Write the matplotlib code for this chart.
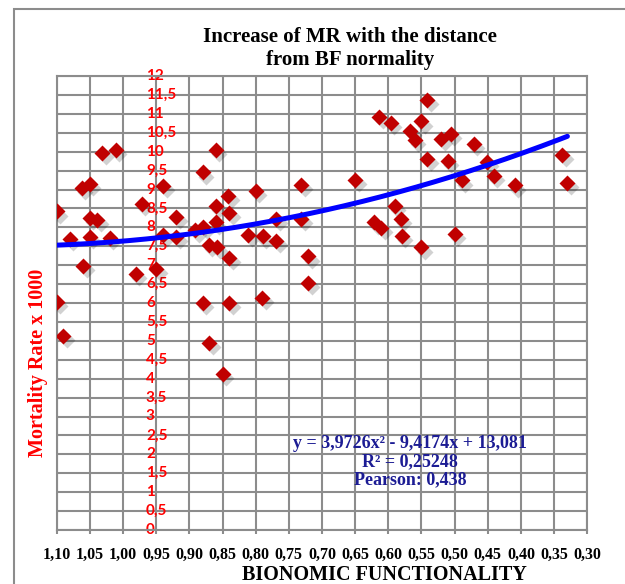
#!/usr/bin/env python3
"""Mortality rate vs bionomic functionality, with quadratic trend (Excel style)."""
import numpy as np
import matplotlib
matplotlib.use("Agg")
import matplotlib.pyplot as plt
import matplotlib.transforms as mtransforms
from matplotlib.patches import Rectangle

# bionomic functionality (x) and mortality rate x 1000 (y)
bf = [1.100, 1.031, 1.011, 1.062, 1.050, 1.080, 1.050, 1.050, 1.039, 1.020,
      1.060, 1.100, 1.090, 0.972, 0.981, 0.939, 0.950, 0.920, 0.939, 0.920,
      0.891, 0.880, 0.860, 0.841, 0.860, 0.840, 0.800, 0.731, 0.879, 0.860,
      0.871, 0.859, 0.840, 0.811, 0.789, 0.769, 0.769, 0.731, 0.721, 0.721,
      0.880, 0.840, 0.790, 0.870, 0.850, 0.541, 0.614, 0.596, 0.550, 0.567,
      0.560, 0.520, 0.506, 0.471, 0.541, 0.510, 0.451, 0.441, 0.489, 0.650,
      0.590, 0.581, 0.621, 0.611, 0.580, 0.550, 0.500, 0.409, 0.338, 0.330]
mr = [8.42, 9.97, 10.05, 9.04, 9.15, 7.69, 7.74, 8.25, 8.20, 7.72,
      6.97, 6.03, 5.13, 8.62, 6.77, 9.10, 6.90, 8.27, 7.80, 7.74,
      7.92, 9.45, 10.05, 8.82, 8.57, 8.39, 8.97, 9.13, 8.01, 8.13,
      7.54, 7.48, 7.19, 7.80, 7.76, 7.65, 8.22, 8.22, 7.23, 6.53,
      6.00, 6.00, 6.13, 4.94, 4.13, 11.36, 10.92, 10.76, 10.80, 10.54,
      10.30, 10.34, 10.47, 10.21, 9.81, 9.76, 9.74, 9.35, 9.24, 9.26,
      8.57, 8.22, 8.13, 7.98, 7.78, 7.47, 7.83, 9.11, 9.92, 9.17]

# trendline coefficients as printed on the chart (a x^2 + b x + c)
trend_coef = [3.9726, -9.4174, 13.081]
trend_text = "y = 3,9726x² - 9,4174x + 13,081\nR² = 0,25248\nPearson: 0,438"

x_ticks = [1.10, 1.05, 1.00, 0.95, 0.90, 0.85, 0.80, 0.75, 0.70, 0.65,
           0.60, 0.55, 0.50, 0.45, 0.40, 0.35, 0.30]
x_tick_labels = ["1,10", "1,05", "1,00", "0,95", "0,90", "0,85", "0,80", "0,75",
                 "0,70", "0,65", "0,60", "0,55", "0,50", "0,45", "0,40", "0,35", "0,30"]
y_ticks = [0, 0.5, 1, 1.5, 2, 2.5, 3, 3.5, 4, 4.5, 5, 5.5, 6, 6.5, 7, 7.5,
           8, 8.5, 9, 9.5, 10, 10.5, 11, 11.5, 12]
y_tick_labels = ["0", "0,5", "1", "1,5", "2", "2,5", "3", "3,5", "4", "4,5",
                 "5", "5,5", "6", "6,5", "7", "7,5", "8", "8,5", "9", "9,5",
                 "10", "10,5", "11", "11,5", "12"]

SERIF = "Liberation Serif"
GRID = "#8c8c8c"
W, H = 625, 584

fig = plt.figure(figsize=(W / 100, H / 100), dpi=100)

# outer chart frame (only left/top edges fall inside the picture)
fig.add_artist(Rectangle((14 / W, -0.2), 1.2, 1 - 9 / H + 0.2,
                         transform=fig.transFigure, fill=False,
                         edgecolor=GRID, lw=1.5))

ax = fig.add_axes([56.7 / W, 1 - 530 / H, (587.3 - 56.7) / W, (530 - 76) / H])
ax.set_xlim(1.10, 0.30)
ax.set_ylim(0, 12)

ax.set_xticks(x_ticks)
ax.set_xticklabels(x_tick_labels, fontfamily=SERIF, fontweight="bold", fontsize=11.5)
ax.set_yticks(y_ticks)
ax.tick_params(axis="y", left=False, labelleft=False)
ax.tick_params(axis="x", direction="out", length=3, width=1.5, color=GRID, pad=9.5)
ax.grid(True, color=GRID, lw=1.5)
ax.set_axisbelow(True)
for sp in ax.spines.values():
    sp.set_color(GRID)
    sp.set_linewidth(1.5)

# y tick labels sit inside the plot, next to the x = 0,95 gridline
for yv, lab in zip(y_ticks, y_tick_labels):
    ax.text(0.9655, yv, lab, color="#ff0000", fontfamily="Lato", fontweight="bold",
            fontsize=11, ha="left", va="center", zorder=2)

# diamonds with a soft drop shadow
shadow = mtransforms.offset_copy(ax.transData, fig=fig, x=2.5, y=-3, units="points")
ax.plot(bf, mr, "D", ms=8.5, color="#000000", alpha=0.18, mec="none",
        transform=shadow, zorder=3)
ax.plot(bf, mr, "D", ms=8.5, color="#c00000", mec="none", zorder=4)

# polynomial trendline over the data range
xs = np.linspace(max(bf), min(bf), 200)
ax.plot(xs, np.polyval(trend_coef, xs), color="#0000ff", lw=3.6,
        solid_capstyle="round", zorder=5)

ax.text(0.567, 1.80, trend_text, color="#1c1c94", fontfamily=SERIF,
        fontweight="bold", fontsize=13, ha="center", va="center",
        multialignment="center", linespacing=1.1, zorder=6)

fig.text(350 / W, 1 - 48 / H, "Increase of MR with the distance\nfrom BF normality",
         ha="center", va="center", fontfamily=SERIF, fontweight="bold",
         fontsize=15, linespacing=1.2)
fig.text(384 / W, 1 - 575 / H, "BIONOMIC FUNCTIONALITY", ha="center", va="center",
         fontfamily=SERIF, fontweight="bold", fontsize=14.5)
fig.text(38 / W, 1 - 363 / H, "Mortality Rate x 1000", rotation=90,
         ha="center", va="center", color="#ff0000", fontfamily=SERIF,
         fontweight="bold", fontsize=14.5)

fig.savefig("out.png", dpi=100)
print("wrote out.png")
